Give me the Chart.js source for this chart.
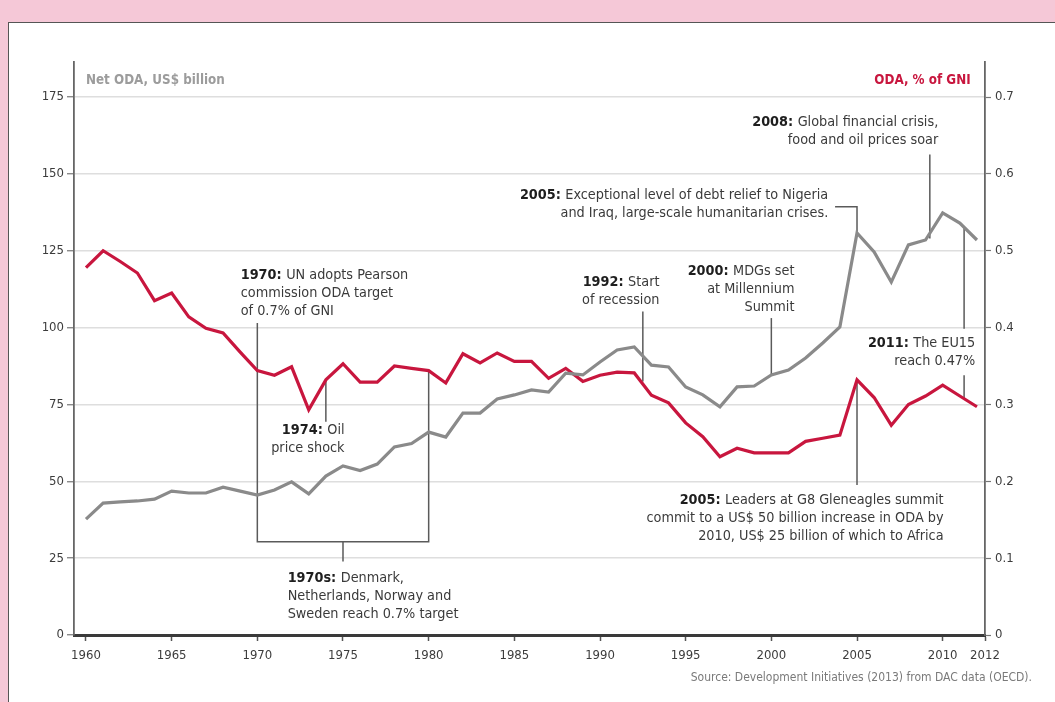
<!DOCTYPE html>
<html>
<head>
<meta charset="utf-8">
<title>Net ODA and ODA as % of GNI, 1960-2012</title>
<script src="https://cdn.jsdelivr.net/npm/chart.js@4.4.1/dist/chart.umd.min.js"></script>
<style>
  html, body { margin: 0; padding: 0; background: #f5c8d7; }
  #card {
    position: absolute; left: 8px; top: 22px; right: 0; bottom: 0;
    background: #fff; border-left: 1.5px solid #555; border-top: 1.5px solid #555;
  }
  #wrap { position: absolute; left: 0; top: 0; width: 1055px; height: 702px; }
</style>
</head>
<body>
<div id="card"></div>
<div id="wrap"><canvas id="odaChart" width="1055" height="702"></canvas></div>
<script>
const FONT = '"DejaVu Sans Condensed", "Liberation Sans Narrow", sans-serif';
const NOTE_SIZE = 14.3;

const years = [
  1960, 1961, 1962, 1963, 1964, 1965, 1966, 1967, 1968, 1969,
  1970, 1971, 1972, 1973, 1974, 1975, 1976, 1977, 1978, 1979,
  1980, 1981, 1982, 1983, 1984, 1985, 1986, 1987, 1988, 1989,
  1990, 1991, 1992, 1993, 1994, 1995, 1996, 1997, 1998, 1999,
  2000, 2001, 2002, 2003, 2004, 2005, 2006, 2007, 2008, 2009,
  2010, 2011, 2012
];

// Net ODA, US$ billion (left axis)
const netOdaBn = [
  37.7, 42.9, 43.3, 43.6, 44.2, 46.8, 46.2, 46.2, 48.1, 46.8,
  45.5, 47.2, 49.8, 45.9, 51.7, 55.0, 53.5, 55.6, 61.2, 62.3,
  66.0, 64.4, 72.2, 72.2, 76.8, 78.1, 79.7, 79.0, 85.2, 84.6,
  88.8, 92.7, 93.7, 87.8, 87.2, 80.7, 78.1, 74.2, 80.7, 81.0,
  84.6, 86.2, 90.1, 95.0, 100.2, 130.8, 124.6, 114.8, 126.9, 128.5,
  137.3, 134.0, 128.5
];

// ODA as % of GNI (right axis)
const odaPctGni = [
  0.478, 0.500, 0.486, 0.471, 0.435, 0.445, 0.414, 0.399, 0.393, 0.368,
  0.344, 0.338, 0.349, 0.293, 0.332, 0.353, 0.329, 0.329, 0.350, 0.347,
  0.344, 0.328, 0.366, 0.354, 0.367, 0.356, 0.356, 0.334, 0.347, 0.330,
  0.338, 0.342, 0.341, 0.312, 0.302, 0.276, 0.258, 0.232, 0.243, 0.237,
  0.237, 0.237, 0.252, 0.256, 0.260, 0.332, 0.309, 0.273, 0.300, 0.311,
  0.325, 0.311, 0.297
];

const xTickValues = [1960, 1965, 1970, 1975, 1980, 1985, 1990, 1995, 2000, 2005, 2010, 2012.47];
const xTickLabels = ['1960', '1965', '1970', '1975', '1980', '1985', '1990', '1995', '2000', '2005', '2010', '2012'];

const X_MIN = 1959.3;
const X_MAX = 2012.47;
const Y_MAX = 186.4;           // room above the 175 gridline for the axis titles
const GNI_PER_BN = 1 / 250;    // 175 bn on the left lines up with 0.7% on the right

// Callouts: bold head, then lines; x in years, y in US$ bn
const notes = [
  { x: 1969.03, y: 117.1, align: 'left',  head: '1970:', lines: ['UN adopts Pearson', 'commission ODA target', 'of 0.7% of GNI'] },
  { x: 1971.77, y: 18.4,  align: 'left',  head: '1970s:', lines: ['Denmark,', 'Netherlands, Norway and', 'Sweden reach 0.7% target'] },
  { x: 1975.09, y: 66.7,  align: 'right', head: '1974:', lines: ['Oil', 'price shock'] },
  { x: 1993.47, y: 114.9, align: 'right', head: '1992:', lines: ['Start', 'of recession'] },
  { x: 2001.35, y: 118.2, align: 'right', head: '2000:', lines: ['MDGs set', 'at Millennium', 'Summit'] },
  { x: 2003.32, y: 143.1, align: 'right', head: '2005:', lines: ['Exceptional level of debt relief to Nigeria', 'and Iraq, large-scale humanitarian crises.'] },
  { x: 2009.74, y: 166.7, align: 'right', head: '2008:', lines: ['Global financial crisis,', 'food and oil prices soar'] },
  { x: 2011.9,  y: 94.9,  align: 'right', head: '2011:', lines: ['The EU15', 'reach 0.47%'] },
  { x: 2010.05, y: 43.7,  align: 'right', head: '2005:', lines: ['Leaders at G8 Gleneagles summit', 'commit to a US$ 50 billion increase in ODA by', '2010, US$ 25 billion of which to Africa'] }
];

// Leader lines: [year, value, axis]
const leaders = [
  [[1970, 101.5, 'y'], [1970, 30.35, 'y'], [1980, 30.35, 'y'], [1980, 0.344, 'y1']],
  [[1975, 30.35, 'y'], [1975, 23.9, 'y']],
  [[1974, 0.332, 'y1'], [1974, 69.4, 'y']],
  [[1992.5, 105.2, 'y'], [1992.5, 0.33, 'y1']],
  [[2000, 103.1, 'y'], [2000, 84.6, 'y']],
  [[2003.72, 139.3, 'y'], [2005, 139.3, 'y'], [2005, 130.8, 'y']],
  [[2009.25, 156.3, 'y'], [2009.25, 129.0, 'y']],
  [[2011.25, 132.6, 'y'], [2011.25, 99.6, 'y']],
  [[2011.25, 84.5, 'y'], [2011.25, 0.3075, 'y1']],
  [[2005, 0.332, 'y1'], [2005, 48.8, 'y']]
];

const LINE_GAP = 18;

function drawRichLine(ctx, head, text, x, y, align) {
  const boldFont = 'bold ' + NOTE_SIZE + 'px ' + FONT;
  const regFont = NOTE_SIZE + 'px ' + FONT;
  ctx.font = boldFont;
  const headW = head ? ctx.measureText(head + ' ').width : 0;
  ctx.font = regFont;
  const textW = ctx.measureText(text).width;
  let left = x;
  if (align === 'right') left = x - headW - textW;
  ctx.textAlign = 'left';
  if (head) {
    ctx.font = boldFont;
    ctx.fillStyle = '#1e1e1e';
    ctx.fillText(head, left, y);
  }
  ctx.font = regFont;
  ctx.fillStyle = '#3a3a3a';
  ctx.fillText(text, left + headW, y);
}

const leaderPlugin = {
  id: 'leaders',
  beforeDatasetsDraw(chart) {
    const { ctx, scales } = chart;
    ctx.save();
    ctx.strokeStyle = '#5a5a5a';
    ctx.lineWidth = 1.5;
    leaders.forEach(path => {
      ctx.beginPath();
      path.forEach(([yr, val, axis], i) => {
        const px = scales.x.getPixelForValue(yr);
        const py = scales[axis].getPixelForValue(val);
        if (i === 0) ctx.moveTo(px, py); else ctx.lineTo(px, py);
      });
      ctx.stroke();
    });
    ctx.restore();
  }
};

const notesPlugin = {
  id: 'notes',
  afterDatasetsDraw(chart) {
    const { ctx, scales } = chart;
    const { x, y } = scales;
    ctx.save();
    ctx.textBaseline = 'middle';

    notes.forEach(n => {
      const px = x.getPixelForValue(n.x);
      const py = y.getPixelForValue(n.y);
      n.lines.forEach((line, i) => {
        drawRichLine(ctx, i === 0 ? n.head : '', line, px, py + i * LINE_GAP, n.align);
      });
    });

    // axis titles
    const titleY = y.getPixelForValue(180.5);
    ctx.font = 'bold 13.3px ' + FONT;
    ctx.textAlign = 'left';
    ctx.fillStyle = '#9c9c9c';
    ctx.fillText('Net ODA, US$ billion', x.getPixelForValue(1960), titleY);
    ctx.textAlign = 'right';
    ctx.fillStyle = '#c8163e';
    ctx.fillText('ODA, % of GNI', x.getPixelForValue(2011.63), titleY);

    // source line
    ctx.font = '12px ' + FONT;
    ctx.fillStyle = '#7a7a7a';
    ctx.textAlign = 'right';
    ctx.fillText('Source: Development Initiatives (2013) from DAC data (OECD).', chart.width - 23, chart.height - 24);
    ctx.restore();
  }
};

const canvas = document.getElementById('odaChart');

new Chart(canvas, {
  type: 'line',
  data: {
    datasets: [
      {
        label: 'Net ODA, US$ billion',
        data: years.map((yr, i) => ({ x: yr, y: netOdaBn[i] })),
        yAxisID: 'y',
        borderColor: '#8a8a8a',
        borderWidth: 3.2,
        pointRadius: 0,
        tension: 0
      },
      {
        label: 'ODA, % of GNI',
        data: years.map((yr, i) => ({ x: yr, y: odaPctGni[i] })),
        yAxisID: 'y1',
        borderColor: '#c8163e',
        borderWidth: 3.2,
        pointRadius: 0,
        tension: 0
      }
    ]
  },
  options: {
    responsive: false,
    animation: false,
    devicePixelRatio: 1,
    layout: { padding: { top: 62, left: 0, right: 0, bottom: 27 } },
    plugins: {
      legend: { display: false },
      tooltip: { enabled: false }
    },
    scales: {
      x: {
        type: 'linear',
        min: X_MIN,
        max: X_MAX,
        afterBuildTicks: scale => {
          scale.ticks = xTickValues.map(v => ({ value: v }));
        },
        afterFit: scale => { scale.height = 40; },
        ticks: {
          autoSkip: false,
          maxRotation: 0,
          padding: 7,
          color: '#3c3c3c',
          font: { family: FONT, size: 13 },
          callback: (value, index) => xTickLabels[index]
        },
        grid: {
          drawOnChartArea: false,
          drawTicks: true,
          tickLength: 6,
          tickColor: '#555',
          tickWidth: 1.5
        },
        border: { color: '#3a3a3a', width: 3 }
      },
      y: {
        position: 'left',
        min: 0,
        max: Y_MAX,
        afterFit: scale => { scale.width = 74; },
        ticks: {
          stepSize: 25,
          includeBounds: false,
          padding: 3,
          color: '#3c3c3c',
          font: { family: FONT, size: 13 }
        },
        grid: {
          color: '#dedede',
          lineWidth: 1.5,
          tickLength: 7,
          tickColor: '#777',
          tickWidth: 1.2
        },
        border: { color: '#666', width: 1.8 }
      },
      y1: {
        position: 'right',
        min: 0,
        max: Y_MAX * GNI_PER_BN,
        afterFit: scale => { scale.width = 70; },
        ticks: {
          stepSize: 0.1,
          includeBounds: false,
          padding: 4,
          color: '#3c3c3c',
          font: { family: FONT, size: 13 },
          callback: v => (v === 0 ? '0' : v.toFixed(1))
        },
        grid: {
          drawOnChartArea: false,
          tickLength: 6,
          tickColor: '#777',
          tickWidth: 1.2
        },
        border: { color: '#666', width: 1.8 }
      }
    }
  },
  plugins: [leaderPlugin, notesPlugin]
});
</script>
</body>
</html>
